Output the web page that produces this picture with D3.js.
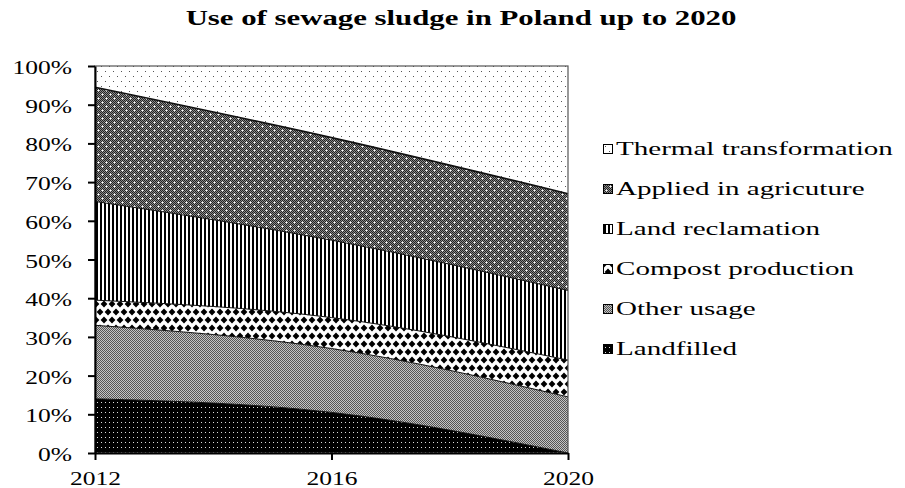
<!DOCTYPE html>
<html>
<head>
<meta charset="utf-8">
<script src="https://cdn.jsdelivr.net/npm/d3@7"></script>
<style>
  body { margin: 0; background: #fff; }
  svg { display: block; }
  text { font-family: "Liberation Serif", "DejaVu Serif", serif; fill: #000; }
</style>
</head>
<body>
<svg id="chart" width="905" height="488"></svg>
<script>
// data (percent share per year)
var years = [2012, 2016, 2020];
var landfilled = [14, 10.5, 0];
var otherUsage = [19, 16.5, 14.5];
var compost = [6.5, 8, 9.5];
var landReclamation = [25.5, 20, 18];
var agriculture = [29.5, 26.5, 25];
var thermal = [5.5, 18.5, 33];

var seriesNames = ["Landfilled", "Other usage", "Compost production", "Land reclamation", "Applied in agricuture", "Thermal transformation"];
var seriesValues = [landfilled, otherUsage, compost, landReclamation, agriculture, thermal];
var yTicks = [0, 10, 20, 30, 40, 50, 60, 70, 80, 90, 100];

var SX = 1.42; // the original is stretched sideways

var svg = d3.select("#chart");
var defs = svg.append("defs");

function pixelPattern(id, w, h, colorAt){
    var p = defs.append("pattern")
        .attr("id", id)
        .attr("patternUnits", "userSpaceOnUse")
        .attr("width", w).attr("height", h);
    for (var y = 0; y < h; y++){
        for (var x = 0; x < w; x++){
            p.append("rect")
                .attr("x", x).attr("y", y)
                .attr("width", 1).attr("height", 1)
                .attr("shape-rendering", "crispEdges")
                .attr("fill", colorAt(x, y));
        }
    }
    return p;
}

// thermal: sparse grey dots on white
pixelPattern("pThermal", 8, 10, function(x, y){
    if ((x == 1 && y == 1) || (x == 5 && y == 6)) return "#555";
    return "#fff";
});
// agriculture: dark dither with light crosses
pixelPattern("pAgri", 8, 8, function(x, y){
    if ((x == 2 && y == 2) || (x == 6 && y == 6)) return "#fff";
    if ((Math.abs(x - 2) + Math.abs(y - 2) == 1) || (Math.abs(x - 6) + Math.abs(y - 6) == 1)) return "#c8c8c8";
    return (x + y) % 2 == 0 ? "#222" : "#8a8a8a";
});
// land reclamation: vertical stripes
pixelPattern("pLand", 4, 1, function(x, y){
    return x < 2 ? "#000" : "#fff";
});
// other usage: fine checker, mid grey
pixelPattern("pOther", 2, 2, function(x, y){
    return (x + y) % 2 == 0 ? "#555" : "#c4c4c4";
});
// landfilled: black with white dots
pixelPattern("pFill", 4, 5, function(x, y){
    return (x == 1 && y == 2) ? "#ddd" : "#000";
});
// compost: black diamonds on white, rows offset
var pc = defs.append("pattern")
    .attr("id", "pCompost")
    .attr("patternUnits", "userSpaceOnUse")
    .attr("width", 8).attr("height", 16);
pc.append("rect").attr("width", 8).attr("height", 16).attr("fill", "#fff");
[[0, 0], [8, 0], [4, 8], [0, 16], [8, 16]].forEach(function(c){
    var r = 3.4;
    pc.append("path")
        .attr("d", "M" + c[0] + "," + (c[1] - r) + "L" + (c[0] + r) + "," + c[1] + "L" + c[0] + "," + (c[1] + r) + "L" + (c[0] - r) + "," + c[1] + "Z")
        .attr("fill", "#000");
});

var fills = ["url(#pFill)", "url(#pOther)", "url(#pCompost)", "url(#pLand)", "url(#pAgri)", "url(#pThermal)"];

var plot = {left: 95, right: 568, top: 66, bottom: 453};

var x = d3.scaleLinear().domain([2012, 2020]).range([plot.left, plot.right]);
var y = d3.scaleLinear().domain([0, 100]).range([plot.bottom, plot.top]);

var table = years.map(function(yr, i){
    var row = {year: yr};
    seriesNames.forEach(function(n, k){ row[n] = seriesValues[k][i]; });
    return row;
});

var stacked = d3.stack().keys(seriesNames)(table);

var area = d3.area()
    .curve(d3.curveMonotoneX)
    .x(function(d){ return x(d.data.year); })
    .y0(function(d){ return y(d[0]); })
    .y1(function(d){ return y(d[1]); });

var topLine = d3.line()
    .curve(d3.curveMonotoneX)
    .x(function(d){ return x(d.data.year); })
    .y(function(d){ return y(d[1]); });

svg.append("g").selectAll("path")
    .data(stacked)
    .join("path")
    .attr("d", area)
    .attr("fill", function(d, i){ return fills[i]; });

svg.append("g").selectAll("path")
    .data(stacked.slice(0, 5))
    .join("path")
    .attr("d", topLine)
    .attr("fill", "none")
    .attr("stroke", "#111")
    .attr("stroke-width", function(d, i){ return i == 4 ? 1.6 : 1; });

// plot frame
svg.append("rect")
    .attr("x", plot.left).attr("y", plot.top)
    .attr("width", plot.right - plot.left)
    .attr("height", plot.bottom - plot.top)
    .attr("fill", "none")
    .attr("stroke", "#555")
    .attr("stroke-width", 1.2);

// axes
var yAxis = svg.append("g")
    .attr("transform", "translate(" + plot.left + ",0)")
    .call(d3.axisLeft(y).tickValues(yTicks).tickSize(7).tickSizeOuter(0).tickFormat(function(d){ return d + "%"; }));
yAxis.select(".domain").attr("stroke", "#000").attr("stroke-width", 2);
yAxis.selectAll(".tick line").attr("stroke", "#000").attr("stroke-width", 2);
yAxis.selectAll(".tick text")
    .attr("x", -16.2)
    .attr("dy", "7.5px")
    .attr("transform", "scale(" + SX + ",1)")
    .style("font-family", "Liberation Serif")
    .style("font-size", "18px");

var xAxis = svg.append("g")
    .attr("transform", "translate(0," + plot.bottom + ")")
    .call(d3.axisBottom(x).tickValues(years).tickSize(7).tickSizeOuter(0).tickFormat(d3.format("d")));
xAxis.select(".domain").attr("stroke", "#000").attr("stroke-width", 2);
xAxis.selectAll(".tick line").attr("stroke", "#000").attr("stroke-width", 2);
xAxis.selectAll(".tick text")
    .attr("y", 32)
    .attr("dy", 0)
    .attr("transform", "scale(" + SX + ",1)")
    .style("font-family", "Liberation Serif")
    .style("font-size", "18px");

function wideText(px, py, str, anchor, size, weight, sx){
    return svg.append("g")
        .attr("transform", "translate(" + px + "," + py + ") scale(" + sx + ",1)")
        .append("text")
        .attr("text-anchor", anchor)
        .style("font-size", size + "px")
        .style("font-weight", weight)
        .text(str);
}

wideText(461, 25, "Use of sewage sludge in Poland up to 2020", "middle", 20, "bold", 1.54);

// legend, top entry first
var legendOrder = d3.range(seriesNames.length).reverse();
var legend = svg.append("g");
legendOrder.forEach(function(k, row){
    var by = 155 + row * 40;
    legend.append("rect")
        .attr("x", 603.5).attr("y", by - 10.5)
        .attr("width", 9).attr("height", 9)
        .attr("fill", fills[k])
        .attr("stroke", "#000")
        .attr("stroke-width", 1);
    wideText(616, by, seriesNames[k], "start", 19, "normal", 1.53);
});
</script>
</body>
</html>
